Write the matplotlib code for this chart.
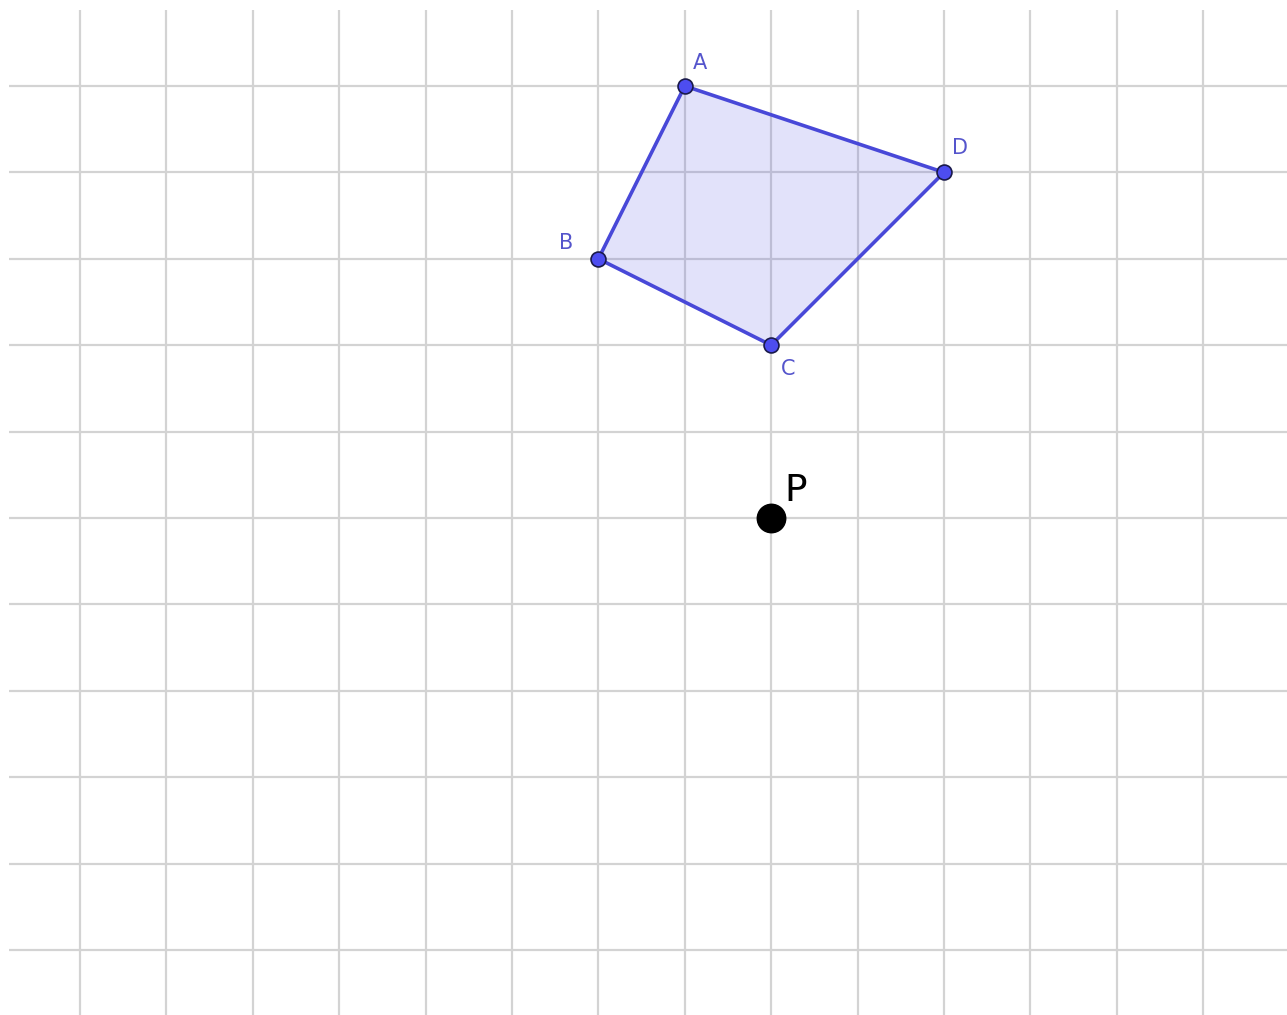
import matplotlib.pyplot as plt
from matplotlib.patches import Polygon

# quadrilateral vertices (grid units)
names = ["A", "B", "C", "D"]
xs = [7, 6, 8, 10]
ys = [10, 8, 7, 9]

# free point
p_name = "P"
p_x, p_y = 8, 5

grid_x = list(range(0, 14))
grid_y = list(range(0, 11))

W, H = 1287, 1015
fig = plt.figure(figsize=(W / 100, H / 100), dpi=100)
ax = fig.add_axes([9 / W, 0, (W - 9) / W, (H - 10) / H])

unit = 86.4
ax.set_xlim(-71 / unit, -71 / unit + (W - 9) / unit)
ax.set_ylim(-65 / unit, -65 / unit + (H - 10) / unit)

for gx in grid_x:
    ax.axvline(gx, color="#d3d3d3", lw=1.6, zorder=0)
for gy in grid_y:
    ax.axhline(gy, color="#d3d3d3", lw=1.6, zorder=0)

blue = "#4848d8"
fill = Polygon(list(zip(xs, ys)), closed=True, facecolor="#5050e0", alpha=0.16,
               edgecolor="none", zorder=2)
ax.add_patch(fill)
edge = Polygon(list(zip(xs, ys)), closed=True, fill=False,
               edgecolor=blue, lw=2.6, zorder=2)
ax.add_patch(edge)
ax.scatter(xs, ys, s=115, color="#4d4df0", edgecolor="#1a1a4a", lw=1.2, zorder=3)

offsets = {"A": (0.18, 0.27), "B": (-0.37, 0.18), "C": (0.2, -0.27), "D": (0.18, 0.28)}
for n, x, y in zip(names, xs, ys):
    dx, dy = offsets[n]
    ax.text(x + dx, y + dy, n, color="#5555cc", fontsize=15, ha="center", va="center", zorder=4)

ax.scatter([p_x], [p_y], s=420, color="black", zorder=3)
ax.text(p_x + 0.28, p_y + 0.31, p_name, color="black", fontsize=27, ha="center", va="center", zorder=4)

ax.set_axis_off()
fig.savefig("out.png", dpi=100, facecolor="white")
